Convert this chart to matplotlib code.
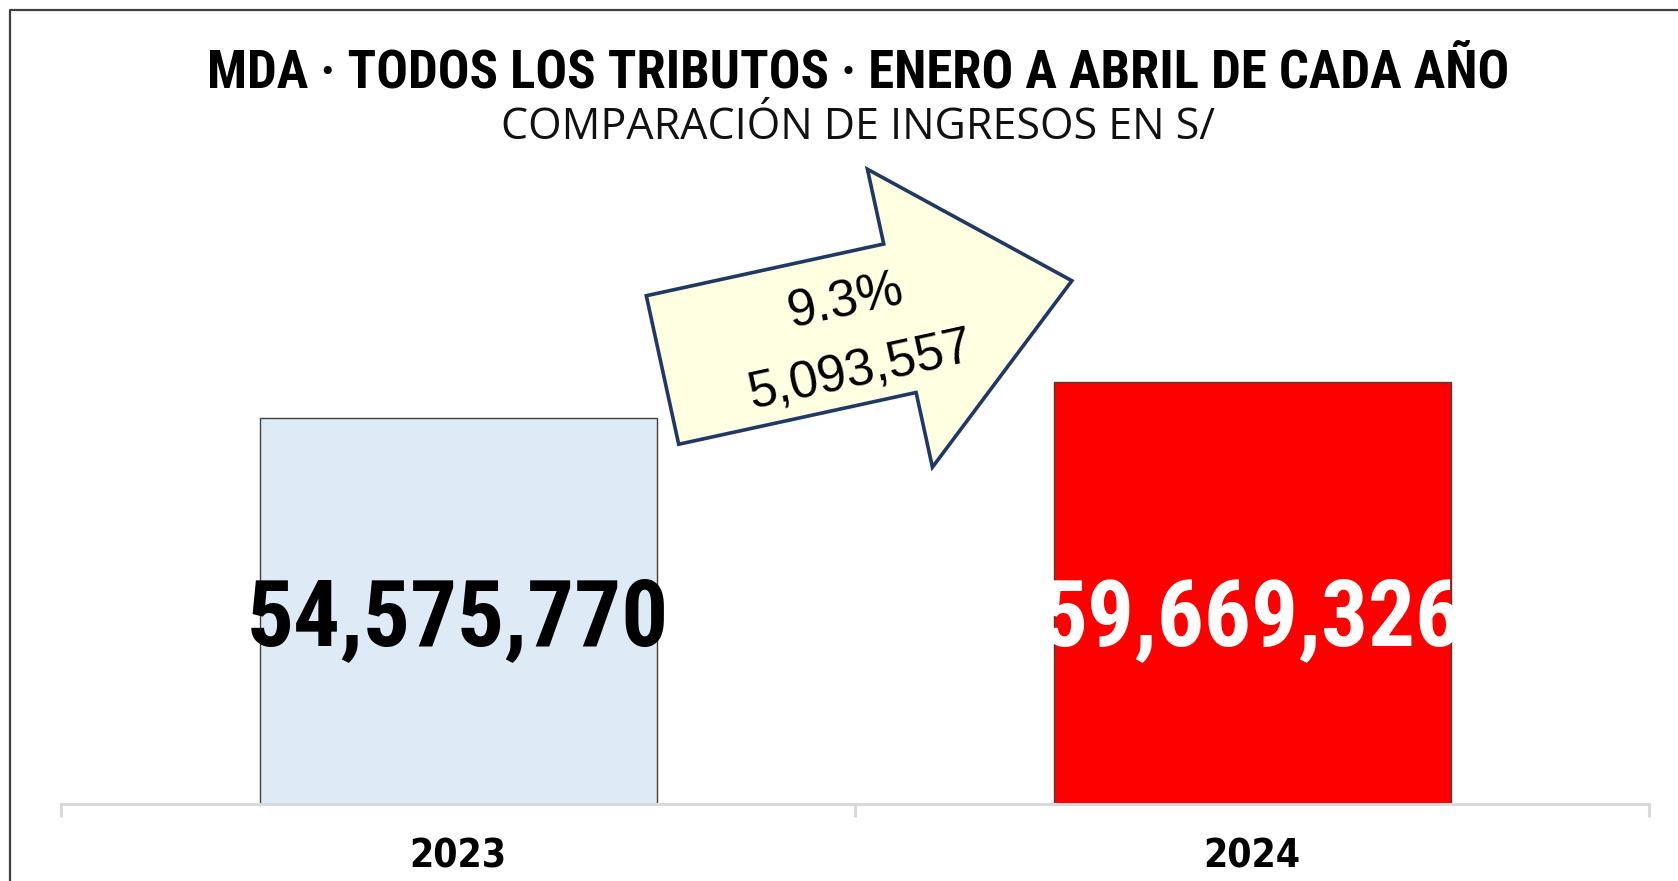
import matplotlib
matplotlib.use("Agg")
import matplotlib.pyplot as plt
from matplotlib.patches import FancyArrow
import numpy as np

# data
years = ["2023", "2024"]
ingresos = [54575770, 59669326]
variacion_pct = 9.3
variacion_abs = 5093557
bar_colors = ["#DEEAF6", "#FF0000"]
label_colors = ["#000000", "#FFFFFF"]
title = "MDA · TODOS LOS TRIBUTOS · ENERO A ABRIL DE CADA AÑO"
subtitle = "COMPARACIÓN DE INGRESOS EN S/"

W, H = 1678, 881
fig = plt.figure(figsize=(W / 100, H / 100), dpi=100)

cond = ["Roboto Condensed", "DejaVu Sans"]

# main bar axes
ax = fig.add_axes([61 / W, 77 / H, 1588 / W, 704 / H])
x = np.arange(len(years))
ax.bar(x, ingresos, width=0.5, color=bar_colors, edgecolor="#404040", linewidth=1.0, zorder=2)
ax.set_xlim(-0.5, 1.5)
ax.set_ylim(0, 99.6e6)
ax.patch.set_visible(False)
for s in ["top", "right", "left"]:
  ax.spines[s].set_visible(False)
ax.spines["bottom"].set_color("#D9D9D9")
ax.spines["bottom"].set_linewidth(2.2)
ax.set_yticks([])
ax.set_xticks(x)
ax.set_xticklabels(years, fontsize=28, fontweight="bold", family="DejaVu Sans", fontstretch="condensed")
ax.tick_params(axis="x", which="major", length=0, pad=24)
ax.set_xticks([-0.5, 0.5, 1.5], minor=True)
ax.tick_params(axis="x", which="minor", length=9, width=2.2, color="#D9D9D9")

# value labels
for i, v in enumerate(ingresos):
  ax.text(x[i], 0.2615, f"{v:,}", transform=ax.get_xaxis_transform(),
          ha="center", va="center", fontsize=67, fontweight="bold",
          family=cond, color=label_colors[i], zorder=3)

# overlay in pixel coordinates for titles, arrow and frame
ov = fig.add_axes([0, 0, 1, 1])
ov.set_xlim(0, W)
ov.set_ylim(H, 0)
ov.axis("off")
ov.patch.set_visible(False)

ov.text(858, 88, title, ha="center", va="baseline", fontsize=38,
        fontweight="bold", family=cond, color="black")
ov.text(858, 139, subtitle, ha="center", va="baseline", fontsize=31,
        family=["Open Sans", "DejaVu Sans"], color="#111111")

# frame
ov.plot([10, 10, W + 5], [H + 5, 10, 10], color="#404040", lw=1.6, clip_on=False)

# arrow
ang = np.deg2rad(12.3)
arr = FancyArrow(662.5, 370, 419 * np.cos(ang), -419 * np.sin(ang), width=152,
                 head_width=305, head_length=176, length_includes_head=True,
                 facecolor="#FFFFE1", edgecolor="#1F3864", linewidth=2.6, zorder=5)
ov.add_patch(arr)
ov.text(846, 302, f"{variacion_pct:.1f}%", ha="center", va="center", rotation=12.3,
        rotation_mode="anchor", fontsize=37, family=["Liberation Sans", "DejaVu Sans"], zorder=6)
ov.text(861, 371, f"{variacion_abs:,}", ha="center", va="center", rotation=12.3,
        rotation_mode="anchor", fontsize=37, family=["Liberation Sans", "DejaVu Sans"], zorder=6)

fig.savefig("out.png", dpi=100, facecolor="white")
